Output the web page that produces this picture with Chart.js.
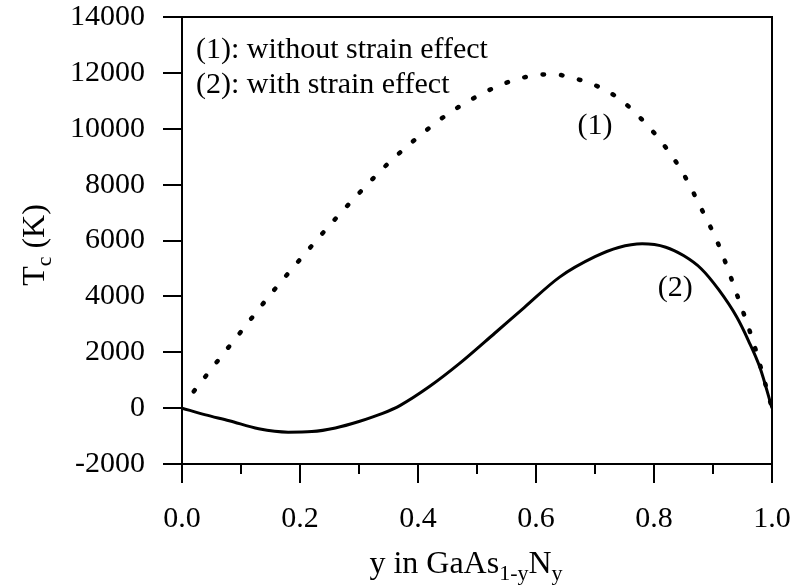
<!DOCTYPE html>
<html>
<head>
<meta charset="utf-8">
<script src="https://cdn.jsdelivr.net/npm/chart.js@4.4.1/dist/chart.umd.min.js"></script>
<style>
  body { margin: 0; background: #fff; }
  #wrap { width: 793px; height: 586px; }
</style>
</head>
<body>
<div id="wrap"><canvas id="myChart" width="793" height="586"></canvas></div>
<script>
// curve (1): without strain effect
const xNoStrain = [0.02, 0.05, 0.10, 0.15, 0.20, 0.25, 0.30, 0.35, 0.40, 0.45, 0.50, 0.55, 0.60, 0.63, 0.66, 0.70, 0.74, 0.78, 0.82, 0.85, 0.88, 0.91, 0.94, 0.97, 1.00];
const tcNoStrain = [600, 1410, 2740, 4070, 5320, 6540, 7690, 8770, 9700, 10520, 11160, 11650, 11920, 11950, 11830, 11560, 11090, 10320, 9330, 8380, 7150, 5820, 4100, 2250, 0];

// curve (2): with strain effect
const xStrain = [0, 0.04, 0.08, 0.13, 0.18, 0.22, 0.26, 0.30, 0.34, 0.37, 0.42, 0.47, 0.53, 0.58, 0.64, 0.70, 0.74, 0.78, 0.82, 0.85, 0.88, 0.91, 0.94, 0.96, 0.98, 1.00];
const tcStrain = [0, -240, -450, -740, -860, -840, -710, -480, -190, 100, 780, 1590, 2680, 3600, 4690, 5420, 5750, 5880, 5760, 5460, 4990, 4230, 3270, 2420, 1430, 0];

const yTickMin = -2000;
const yTickMax = 14000;
const yTickStep = 2000;
const xTickStep = 0.2;
const xMinorTicks = [0.1, 0.3, 0.5, 0.7, 0.9];

const legendLines = ["(1): without strain effect", "(2): with strain effect"];
const curveTags = ["(1)", "(2)"];

const serif = "'Liberation Serif', 'Times New Roman', serif";

const toPoints = (xs, ys) => xs.map((v, i) => ({ x: v, y: ys[i] }));

// draws a run of text where some pieces are subscripts
const drawRun = (ctx, parts, x, y, size, align) => {
  const subSize = Math.round(size * 0.68);
  let total = 0;
  parts.forEach((p) => {
    ctx.font = `${p.sub ? subSize : size}px ${serif}`;
    p.w = ctx.measureText(p.t).width;
    total += p.w;
  });
  let cx = align === "center" ? x - total / 2 : x;
  ctx.textAlign = "left";
  ctx.textBaseline = "alphabetic";
  parts.forEach((p) => {
    ctx.font = `${p.sub ? subSize : size}px ${serif}`;
    ctx.fillText(p.t, cx, p.sub ? y + size * 0.22 : y);
    cx += p.w;
  });
};

// keep tick labels from pushing the plot frame inwards
const noOverflow = (scale) => {
  scale.paddingTop = 0;
  scale.paddingBottom = 0;
  scale.paddingLeft = 0;
  scale.paddingRight = 0;
};

const decorations = {
  id: "decorations",
  afterDraw(chart) {
    const { ctx, chartArea: a, scales } = chart;
    ctx.save();
    ctx.strokeStyle = "#000";
    ctx.fillStyle = "#000";
    ctx.lineWidth = 2;
    ctx.strokeRect(a.left, a.top, a.right - a.left, a.bottom - a.top);

    // short ticks between the labelled ones
    xMinorTicks.forEach((v) => {
      const px = scales.x.getPixelForValue(v);
      ctx.beginPath();
      ctx.moveTo(px, a.bottom);
      ctx.lineTo(px, a.bottom + 10);
      ctx.stroke();
    });

    // legend text inside the frame
    ctx.font = `30px ${serif}`;
    ctx.textAlign = "left";
    ctx.textBaseline = "alphabetic";
    ctx.fillText(legendLines[0], 196, 58);
    ctx.fillText(legendLines[1], 196, 93);

    // tags next to the curves
    ctx.textAlign = "center";
    ctx.fillText(curveTags[0], scales.x.getPixelForValue(0.7), scales.y.getPixelForValue(9800));
    ctx.fillText(curveTags[1], scales.x.getPixelForValue(0.836), scales.y.getPixelForValue(4000));

    // x axis title
    drawRun(ctx, [
      { t: "y in GaAs" },
      { t: "1-y", sub: true },
      { t: "N" },
      { t: "y", sub: true },
    ], 466, 573, 32, "center");

    // y axis title
    ctx.translate(44, 245);
    ctx.rotate(-Math.PI / 2);
    drawRun(ctx, [
      { t: "T" },
      { t: "c", sub: true },
      { t: " (K)" },
    ], 0, 0, 32, "center");
    ctx.restore();
  },
};

Chart.defaults.font.family = serif;
Chart.defaults.color = "#000";

const ctx = document.getElementById("myChart").getContext("2d");
const myChart = new Chart(ctx, {
  type: "line",
  data: {
    datasets: [
      {
        label: "(1)",
        data: toPoints(xNoStrain, tcNoStrain),
        borderColor: "#000",
        borderWidth: 4.5,
        borderDash: [1.5, 17],
        borderCapStyle: "round",
        pointRadius: 0,
        tension: 0.4,
        cubicInterpolationMode: "monotone",
      },
      {
        label: "(2)",
        data: toPoints(xStrain, tcStrain),
        borderColor: "#000",
        borderWidth: 3,
        pointRadius: 0,
        tension: 0.4,
        cubicInterpolationMode: "monotone",
      },
    ],
  },
  options: {
    responsive: false,
    animation: false,
    events: [],
    layout: { padding: { top: 17, right: 21, left: 0, bottom: 0 } },
    plugins: {
      legend: { display: false },
      tooltip: { enabled: false },
    },
    scales: {
      x: {
        type: "linear",
        min: 0,
        max: 1,
        afterFit: (scale) => { scale.height = 122; noOverflow(scale); },
        border: { display: true, color: "#000", width: 2 },
        grid: { drawOnChartArea: false, drawTicks: true, tickLength: 19, color: "#000", lineWidth: 2 },
        ticks: {
          stepSize: xTickStep,
          padding: 18,
          maxRotation: 0,
          font: { size: 30 },
          callback: (v) => v.toFixed(1),
        },
      },
      y: {
        min: yTickMin,
        max: yTickMax,
        afterFit: (scale) => { scale.width = 182; noOverflow(scale); },
        border: { display: true, color: "#000", width: 2 },
        grid: { drawOnChartArea: false, drawTicks: true, tickLength: 19, color: "#000", lineWidth: 2 },
        ticks: {
          stepSize: yTickStep,
          padding: 18,
          font: { size: 30 },
          callback: (v) => String(v),
        },
      },
    },
  },
  plugins: [decorations],
});
</script>
</body>
</html>
